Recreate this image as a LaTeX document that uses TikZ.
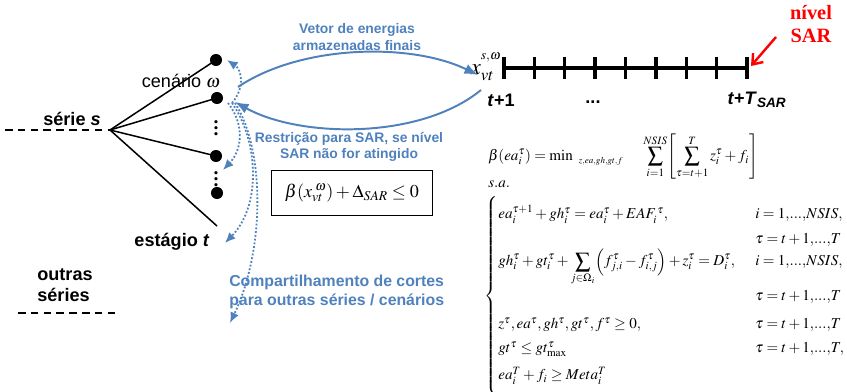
\documentclass[tikz,border=0pt]{standalone}
\usepackage{mathptmx}
\usepackage{fontspec}
\setmainfont{Liberation Serif}
\setsansfont{Liberation Sans}
\usepackage{tikz}
\usetikzlibrary{arrows.meta, positioning, calc}
\definecolor{arcblue}{HTML}{4F81BD}
\definecolor{sarred}{HTML}{FF0000}
\newcommand{\tdots}{{,}...{,}}
\tikzset{
  lbl/.style={font=\sffamily\bfseries\fontsize{12}{14}\selectfont, inner sep=1pt},
  bluelbl/.style={font=\sffamily\bfseries\fontsize{9.2}{11}\selectfont, text=arcblue, align=center, inner sep=0pt},
  scen/.style={circle, fill=black, inner sep=0pt, minimum size=8pt},
  branch/.style={line width=1pt},
  seriesdash/.style={line width=1pt, dash pattern=on 5pt off 3.5pt},
  vetarrow/.style={arcblue, line width=1.3pt, -{Latex[length=9pt,width=7pt]}},
  cutarrow/.style={arcblue, line width=1.2pt, dash pattern=on 1.2pt off 1.3pt, -{Latex[length=7pt,width=6pt]}},
  tick/.style={line width=2.2pt},
  eqrow/.style={anchor=base west, inner sep=0pt, font=\fontsize{10}{12}\selectfont},
}

\begin{document}
\begin{tikzpicture}[x=0.0233cm, y=-0.0233cm]
  \useasboundingbox (0,0) rectangle (847,392);

  % tree of scenarios
  \coordinate (lft) at (5,130);
  \coordinate (root) at (110,130);
  \node[scen] (d1) at (216,60) {};
  \node[scen] (d2) at (217,98) {};
  \node[scen] (d3) at (216,156) {};
  \node[scen] (d4) at (217,193) {};
  \coordinate (tend) at (217,226);
  \draw[seriesdash] (lft) -- (root);
  \foreach \d in {d1,d2,d3} \draw[branch] (root) -- (\d.center);
  \draw[branch] (root) -- (tend);
  \node[font=\bfseries\fontsize{13}{13}\selectfont, inner sep=0pt] (vd1) at (216,124) {$\vdots$};
  \node[font=\bfseries\fontsize{13}{13}\selectfont, inner sep=0pt] (vd2) at (216,175) {$\vdots$};
  \node[lbl] (serie) at (72,119) {série \textit{s}};
  \node[font=\sffamily\fontsize{12}{14}\selectfont, inner sep=1pt] (cen) at (181,81) {cenário $\omega$};
  \node[lbl] (est) at (172,242) {estágio \textit{t}};
  \node[lbl, align=left] (outras) at (65,285) {outras\\séries};
  \coordinate (os) at (18,313);
  \coordinate (oe) at (120,313);
  \draw[seriesdash] (os) -- (oe);

  % horizon up to SAR level
  \coordinate (ts) at (504,68);
  \coordinate (te) at (747,68);
  \draw[line width=3pt] (ts) -- (te);
  \foreach \i in {0,...,8}
    \draw[tick] ($(ts)!\i/8!(te) + (0,-11)$) -- ++(0,22);
  \node[anchor=base east, inner sep=1pt, font=\fontsize{15}{17}\selectfont] (xv) at (503,75) {$x_{vt}^{\raisebox{5pt}{$\scriptscriptstyle s,\omega$}}$};
  \node[lbl] (t1) at (501,100) {\textit{t}+1};
  \node[lbl] (tdts) at (593,102) {...};
  \node[lbl] (tT) at (757,100) {\textit{t}+\textit{T}\textsubscript{\textit{SAR}}};
  \node[font=\rmfamily\bfseries\fontsize{13.5}{15}\selectfont, text=sarred, align=center, inner sep=0pt] (niv) at (811,24) {nível\\SAR};
  \coordinate (sarstart) at (776,37);
  \coordinate (sarend) at (751,66);
  \draw[sarred, line width=1.6pt, -{Straight Barb[length=6pt,width=9pt]}] (sarstart) -- (sarend);

  % information exchange
  \coordinate (vs) at (238,87);
  \coordinate (ve) at (478,75);
  \draw[vetarrow] (vs) .. controls (300,45) and (410,42) .. (ve);
  \node[bluelbl] (vet) at (357,37) {Vetor de energias\\armazenadas finais};
  \coordinate (rs) at (481,90);
  \coordinate (re) at (235,102);
  \draw[vetarrow] (rs) .. controls (420,140) and (300,138) .. (re);
  \node[bluelbl] (res) at (349,147) {Restrição para SAR, se nível\\SAR não for atingido};
  \node[draw, line width=1pt, minimum width=107pt, minimum height=30pt, font=\fontsize{12}{14}\selectfont] (box) at (352,193) {$\beta(x_{vt}^{\;\omega})+\Delta_{SAR}\le 0$};

  \coordinate (c1) at (232,103);
  \coordinate (c2) at (228,103);
  \coordinate (c3) at (232,103);
  \coordinate (c4) at (235,103);
  \coordinate (u1) at (227,60);
  \coordinate (u2) at (223,170);
  \coordinate (u3) at (225,243);
  \coordinate (u4) at (230,323);
  \draw[cutarrow] (c1) .. controls (245,88) and (242,70) .. (u1);
  \draw[cutarrow] (c2) .. controls (245,125) and (242,150) .. (u2);
  \draw[cutarrow] (c3) .. controls (258,140) and (262,205) .. (u3);
  \draw[cutarrow] (c4) .. controls (265,150) and (265,250) .. (u4);
  \node[bluelbl, align=left, anchor=west, font=\sffamily\bfseries\fontsize{10.5}{12.5}\selectfont] (comp) at (229,292) {Compartilhamento de cortes\\para outras séries / cenários};

  % subproblem
  \node[anchor=west, inner sep=0pt, font=\fontsize{10}{12}\selectfont] (obj) at (488,157)
    {$\displaystyle \beta(ea_i^\tau)=\mathop{\min}\nolimits_{\hspace{4pt}\scriptscriptstyle z,ea,gh,gt,f}\quad\;\sum_{i=1}^{NSIS}\!\left[\sum_{\tau=t+1}^{T} z_i^\tau + f_i\right]$};
  \node[eqrow] (sa) at (488,188) {$s.a.$};
  \node[inner sep=0pt, font=\fontsize{10}{12}\selectfont] (brc) at (492,296) {$\left\{\vrule height 63pt depth 63pt width 0pt\right.$};
  \node[eqrow] (r1) at (498,219) {$ea_i^{\tau+1}+gh_i^\tau = ea_i^\tau + EAF_i^{\,\tau},$};
  \node[eqrow] (r2) at (498,266) {$\displaystyle gh_i^\tau+gt_i^\tau+\sum_{j\in\Omega_i}\Bigl(f_{j,i}^\tau - f_{i,j}^\tau\Bigr)+z_i^\tau = D_i^\tau,$};
  \node[eqrow] (r3) at (498,329) {$z^\tau, ea^\tau, gh^\tau, gt^\tau, f^\tau \ge 0,$};
  \node[eqrow] (r4) at (498,353) {$gt^\tau \le gt_{\max}^\tau$};
  \node[eqrow] (r5) at (498,380) {$ea_i^T + f_i \ge Meta_i^T$};
  \node[eqrow] (q1) at (755,219) {$i=1\tdots NSIS,$};
  \node[eqrow] (q2) at (755,244) {$\tau=t+1\tdots T$};
  \node[eqrow] (q3) at (755,266) {$i=1\tdots NSIS,$};
  \node[eqrow] (q4) at (755,301) {$\tau=t+1\tdots T$};
  \node[eqrow] (q5) at (755,329) {$\tau=t+1\tdots T$};
  \node[eqrow] (q6) at (755,353) {$\tau=t+1\tdots T,$};
\end{tikzpicture}
\end{document}
